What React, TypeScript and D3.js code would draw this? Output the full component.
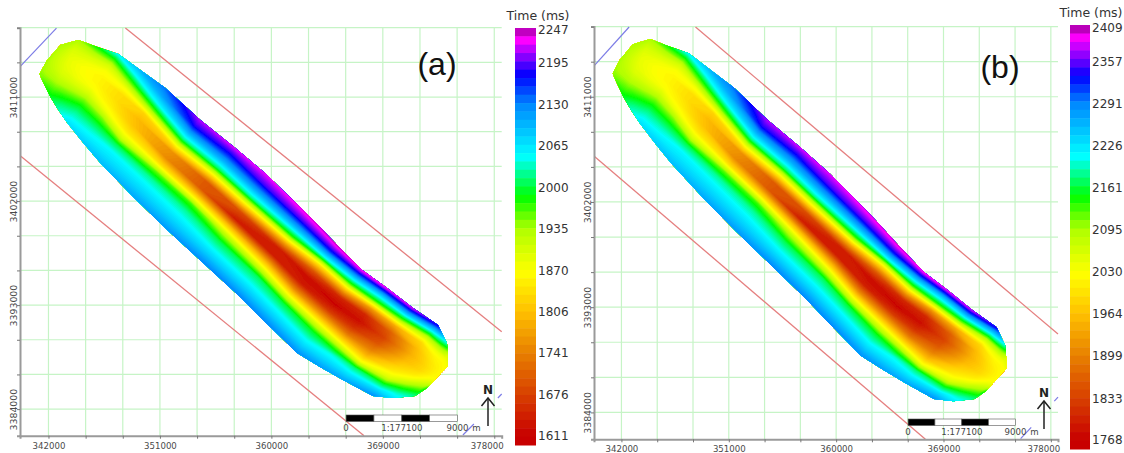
import React, { useEffect, useRef } from 'react'
import * as d3 from 'd3'

const [WIDTH, HEIGHT] = [1124, 453]
const FONT = "'DejaVu Sans', sans-serif"

// map extents, metres
const eastExtent = [339700, 378600]
const northExtent = [3381700, 3417000]
const eastTicks = d3.range(342000, 378001, 3000)
const northTicks = d3.range(3384000, 3417001, 3000)
const labelledEast = [342000, 351000, 360000, 369000, 378000]
const labelledNorth = [3384000, 3393000, 3402000, 3411000]

// fault traces, [easting, northing]
const redFaults = [
  [[348210, 3416968], [378600, 3390698]],
  [[339742, 3405897], [367484, 3381700]],
]
const blueFaults = [
  [[339742, 3413681], [342645, 3416968]],
  [[375468, 3381763], [376355, 3382715]],
  [[378290, 3384963], [378600, 3385310]],
]

// horizon outline, one cross line per station from the SW edge to the NE edge
const swEast = [341274, 341516, 342161, 342806, 343532, 344823, 346194, 348855, 351597, 354500, 357484, 359500, 362081, 363935, 365790, 368210, 369823, 371597, 372564]
const swNorth = [3412990, 3412384, 3411000, 3409876, 3408751, 3407021, 3405291, 3402350, 3399495, 3396641, 3393700, 3391537, 3388856, 3387645, 3386521, 3385137, 3384964, 3385137, 3385828]
const neEast = [341839, 342968, 344419, 345952, 347645, 349419, 351435, 354258, 357081, 359500, 363129, 365306, 367323, 369339, 371435, 373452, 374177, 374258, 374258]
const neNorth = [3414114, 3415498, 3415931, 3415325, 3414720, 3413336, 3411779, 3409010, 3406589, 3404400, 3400620, 3398198, 3396036, 3394479, 3392748, 3391278, 3389721, 3388683, 3387731]

// two-way time along each cross line, SW to NE
const timeA = [
  [1945, 1945, 1945, 1943, 1942, 1941, 1940, 1940, 1940, 1940, 1940, 1940, 1940],
  [1965, 1950, 1940, 1932, 1928, 1925, 1922, 1920, 1920, 1922, 1925, 1930, 1935],
  [1995, 1975, 1955, 1935, 1915, 1900, 1892, 1888, 1888, 1892, 1900, 1915, 1935],
  [2035, 2015, 1990, 1960, 1930, 1900, 1880, 1872, 1870, 1880, 1900, 1935, 1985],
  [2070, 2045, 2020, 1990, 1950, 1905, 1872, 1860, 1860, 1872, 1905, 1975, 2055],
  [2085, 2060, 2035, 2000, 1950, 1880, 1850, 1835, 1835, 1880, 1965, 2045, 2100],
  [2095, 2070, 2050, 2005, 1905, 1845, 1810, 1800, 1825, 1945, 2045, 2105, 2140],
  [2110, 2080, 2055, 2025, 1960, 1835, 1750, 1760, 1885, 2020, 2105, 2180, 2215],
  [2120, 2085, 2055, 2025, 1970, 1830, 1700, 1700, 1850, 2010, 2100, 2170, 2225],
  [2130, 2085, 2045, 2005, 1925, 1800, 1640, 1690, 1860, 2025, 2115, 2190, 2228],
  [2130, 2085, 2045, 2010, 1900, 1780, 1640, 1640, 1790, 1975, 2090, 2185, 2240],
  [2130, 2085, 2045, 2000, 1880, 1750, 1640, 1620, 1700, 1845, 2045, 2170, 2245],
  [2125, 2080, 2040, 1995, 1895, 1780, 1670, 1615, 1650, 1800, 1980, 2110, 2240],
  [2115, 2075, 2040, 1950, 1835, 1730, 1660, 1625, 1650, 1770, 1975, 2090, 2235],
  [2110, 2065, 2015, 1880, 1800, 1740, 1700, 1680, 1705, 1785, 1950, 2090, 2225],
  [2125, 2070, 1995, 1900, 1855, 1825, 1800, 1790, 1800, 1830, 1920, 2060, 2185],
  [2065, 2035, 1990, 1935, 1885, 1850, 1830, 1828, 1838, 1855, 1885, 1950, 2040],
  [2020, 1990, 1960, 1930, 1900, 1875, 1860, 1855, 1855, 1860, 1865, 1880, 1905],
  [1985, 1950, 1920, 1895, 1880, 1870, 1865, 1865, 1865, 1865, 1865, 1870, 1880],
]
const timeB = [
  [2105, 2105, 2105, 2103, 2102, 2101, 2100, 2100, 2100, 2100, 2100, 2100, 2100],
  [2125, 2110, 2100, 2092, 2088, 2085, 2082, 2080, 2080, 2082, 2085, 2090, 2095],
  [2155, 2135, 2115, 2095, 2075, 2058, 2050, 2046, 2046, 2050, 2060, 2075, 2095],
  [2195, 2175, 2150, 2120, 2090, 2060, 2038, 2030, 2028, 2038, 2060, 2095, 2145],
  [2230, 2205, 2180, 2150, 2110, 2065, 2030, 2018, 2018, 2030, 2065, 2135, 2215],
  [2245, 2220, 2195, 2160, 2110, 2038, 2008, 1993, 1993, 2038, 2125, 2205, 2260],
  [2255, 2230, 2210, 2165, 2065, 2003, 1968, 1958, 1983, 2105, 2205, 2265, 2300],
  [2270, 2240, 2215, 2185, 2120, 1993, 1908, 1918, 2043, 2180, 2265, 2340, 2375],
  [2280, 2245, 2215, 2185, 2130, 1988, 1858, 1858, 2008, 2170, 2260, 2330, 2385],
  [2290, 2245, 2205, 2165, 2085, 1958, 1798, 1848, 2018, 2185, 2275, 2350, 2388],
  [2290, 2245, 2205, 2170, 2060, 1938, 1798, 1798, 1948, 2135, 2250, 2345, 2400],
  [2290, 2245, 2205, 2160, 2038, 1908, 1798, 1778, 1858, 2003, 2205, 2330, 2405],
  [2285, 2240, 2200, 2155, 2053, 1938, 1828, 1773, 1808, 1958, 2140, 2270, 2400],
  [2275, 2235, 2200, 2110, 1993, 1888, 1818, 1783, 1808, 1928, 2135, 2250, 2395],
  [2270, 2225, 2175, 2038, 1958, 1898, 1858, 1838, 1863, 1943, 2110, 2250, 2385],
  [2285, 2230, 2155, 2058, 2013, 1983, 1958, 1948, 1958, 1988, 2080, 2220, 2345],
  [2225, 2195, 2150, 2095, 2043, 2008, 1988, 1986, 1996, 2013, 2043, 2110, 2200],
  [2180, 2150, 2120, 2090, 2060, 2033, 2018, 2013, 2013, 2018, 2023, 2040, 2065],
  [2145, 2110, 2080, 2053, 2038, 2028, 2023, 2023, 2023, 2023, 2023, 2028, 2040],
]

// colour bar
const ticksA = [1611, 1676, 1741, 1806, 1870, 1935, 2000, 2065, 2130, 2195, 2247]
const ticksB = [1768, 1833, 1899, 1964, 2030, 2095, 2161, 2226, 2291, 2357, 2409]
const ramp = ['#c80000', '#d84000', '#e88000', '#ffc000', '#ffff00', '#b0ff00', '#00ff00', '#00ffff', '#0088ff', '#0000ff', '#ff00ff', '#b000b0']
const rampStopsA = [1611, 1676, 1741, 1806, 1868, 1935, 1986, 2049, 2130, 2176, 2231, 2247]
const rampStopsB = [1768, 1833, 1899, 1964, 2026, 2095, 2147, 2209, 2291, 2334, 2393, 2409]
const BAND_COUNT = 50

const panelA = {
  label: '(a)', labelX: 437, labelY: 75,
  time: timeA, ticks: ticksA, stops: rampStopsA,
  frame: { left: 20, right: 501.7, top: 27.7, bottom: 435.7 },
  bar: { x: 515, w: 21, top: 28, bottom: 445, tickTop: 30, tickBottom: 436, labelX: 538, titleX: 538, titleY: 20 },
  xLabelPad: 4, scaleY: 415, north: { x: 488, top: 398, bottom: 426 },
  scaleText: 430.5,
}
const panelB = {
  label: '(b)', labelX: 1000, labelY: 78,
  time: timeB, ticks: ticksB, stops: rampStopsB,
  frame: { left: 594, right: 1058, top: 26.6, bottom: 439.3 },
  bar: { x: 1070, w: 20, top: 25, bottom: 449, tickTop: 28, tickBottom: 440, labelX: 1092, titleX: 1091, titleY: 17 },
  xLabelPad: 4, scaleY: 419, north: { x: 1044, top: 401, bottom: 429 },
  scaleText: 435,
}

const scaleBarStart = 366033
const scaleBarSteps = [0, 2250, 4500, 6750, 9000]

function Panel({ panel }) {
  const { frame, bar, time, ticks, stops } = panel
  const xAxisRef = useRef(null)
  const yAxisRef = useRef(null)

  const xScale = d3.scaleLinear().domain(eastExtent).range([frame.left, frame.right])
  const yScale = d3.scaleLinear().domain(northExtent).range([frame.bottom, frame.top])
  const colour = d3.scaleLinear().domain(stops).range(ramp).clamp(true)
  const barScale = d3.scaleLinear()
    .domain([ticks[0], ticks[ticks.length - 1]])
    .range([bar.tickBottom, bar.tickTop])

  // contour the station/column grid, then carry the rings out to map position
  const nCols = time[0].length
  const nRows = time.length
  const flat = time.flat()
  const levels = d3.range(d3.min(flat) - 1, d3.max(flat) + 1, 5)
  const contours = d3.contours().size([nCols, nRows]).smooth(true).thresholds(levels)(flat)
  const lerp = (a, b, t) => a + (b - a) * t
  const atStation = (arr, r) => {
    const r0 = Math.min(Math.floor(r), nRows - 2)
    return lerp(arr[r0], arr[r0 + 1], r - r0)
  }
  const toMap = d3.geoTransform({
    point(cx, cy) {
      const c = Math.max(0, Math.min(nCols - 1, cx - 0.5)) / (nCols - 1)
      const r = Math.max(0, Math.min(nRows - 1, cy - 0.5))
      const e = lerp(atStation(swEast, r), atStation(neEast, r), c)
      const n = lerp(atStation(swNorth, r), atStation(neNorth, r), c)
      this.stream.point(xScale(e), yScale(n))
    },
  })
  const contourPath = d3.geoPath(toMap)

  const faultLine = d3.line().x(d => xScale(d[0])).y(d => yScale(d[1]))

  const bandH = (bar.bottom - bar.top) / BAND_COUNT
  const bands = d3.range(BAND_COUNT).map(i => bar.top + i * bandH)

  useEffect(() => {
    const xAxis = d3.axisBottom(xScale).tickValues(eastTicks).tickSize(3).tickPadding(panel.xLabelPad)
      .tickFormat(d => (labelledEast.includes(d) ? String(d) : ''))
    const yAxis = d3.axisLeft(yScale).tickValues(northTicks).tickSize(3)
      .tickFormat(d => (labelledNorth.includes(d) ? String(d) : ''))
    const gx = d3.select(xAxisRef.current).call(xAxis)
    const gy = d3.select(yAxisRef.current).call(yAxis)
    for (const g of [gx, gy]) {
      g.select('.domain').attr('stroke', '#9a9a9a').attr('stroke-width', 2)
      g.selectAll('.tick line').attr('stroke', '#777')
      g.selectAll('.tick text').attr('fill', '#4a4a4a').style('font-family', FONT)
    }
    gx.selectAll('.tick text').style('font-size', '8.6px')
    gx.selectAll('.tick').filter(d => d === 378000).select('text').attr('dx', -7.5)
    gy.selectAll('.tick text')
      .style('font-size', '9.4px')
      .attr('transform', 'rotate(-90)')
      .attr('text-anchor', 'middle')
      .attr('x', 0)
      .attr('y', -3.5)
      .attr('dy', 0)
  }, [])

  return (
    <g>
      {/* grid */}
      <g stroke="#c6f4c6" strokeWidth={1.2}>
        {eastTicks.map(e => (
          <line key={e} x1={xScale(e)} x2={xScale(e)} y1={frame.top} y2={frame.bottom} />
        ))}
        {northTicks.map(n => (
          <line key={n} x1={frame.left} x2={frame.right} y1={yScale(n)} y2={yScale(n)} />
        ))}
      </g>
      {redFaults.map((f, i) => (
        <path key={i} d={faultLine(f)} fill="none" stroke="#e57f7f" strokeWidth={1.3} />
      ))}
      {blueFaults.map((f, i) => (
        <path key={i} d={faultLine(f)} fill="none" stroke="#7c7ce6" strokeWidth={1.2} />
      ))}

      {/* time map */}
      <g filter="url(#soft)">
        {contours.map(c => (
          <path key={c.value} d={contourPath(c)} fill={colour(c.value + 2.5)} />
        ))}
      </g>

      <g ref={xAxisRef} transform={`translate(0,${frame.bottom})`} />
      <g ref={yAxisRef} transform={`translate(${frame.left},0)`} />

      <text x={panel.labelX} y={panel.labelY} textAnchor="middle" fontSize={32}
        fontFamily="'Liberation Sans', Arial, sans-serif" fill="#111">{panel.label}</text>

      {/* scale bar */}
      <g>
        {d3.pairs(scaleBarSteps).map(([a, b], i) => (
          <rect key={a} x={xScale(scaleBarStart + a)} y={panel.scaleY}
            width={xScale(scaleBarStart + b) - xScale(scaleBarStart + a)} height={6.5}
            fill={i % 2 ? '#fff' : '#000'} stroke="#555" strokeWidth={0.6} />
        ))}
        <g fontFamily={FONT} fontSize={8.6} fill="#444" textAnchor="middle">
          <text x={xScale(scaleBarStart)} y={panel.scaleText}>0</text>
          <text x={xScale(scaleBarStart + 4500)} y={panel.scaleText}>1:177100</text>
          <text x={xScale(scaleBarStart + 9000)} y={panel.scaleText}>9000</text>
          <text x={xScale(scaleBarStart + 9000) + 19} y={panel.scaleText}>m</text>
        </g>
      </g>

      {/* north arrow */}
      <g stroke="#222" strokeWidth={1.5} fill="none">
        <line x1={panel.north.x} x2={panel.north.x} y1={panel.north.top} y2={panel.north.bottom} />
        <path d={`M${panel.north.x - 6.5},${panel.north.top + 8}L${panel.north.x},${panel.north.top}L${panel.north.x + 6.5},${panel.north.top + 8}`} />
      </g>
      <text x={panel.north.x} y={panel.north.top - 4} textAnchor="middle" fontSize={12} fontWeight="bold"
        fontFamily={FONT} fill="#222">N</text>

      {/* colour bar */}
      <text x={bar.titleX} y={bar.titleY} textAnchor="middle" fontSize={12.5} fontFamily={FONT} fill="#333">Time (ms)</text>
      {bands.map(y => (
        <rect key={y} x={bar.x} y={y} width={bar.w} height={bandH + 0.5}
          fill={colour(barScale.invert(y + bandH / 2))} />
      ))}
      {ticks.map(t => (
        <text key={t} x={bar.labelX} y={barScale(t) + 4.3} fontSize={12} fontFamily={FONT} fill="#333">{t}</text>
      ))}
    </g>
  )
}

export default function App() {
  return (
    <svg width={WIDTH} height={HEIGHT} style={{ position: 'absolute', left: 0, top: 0, background: '#fff' }}>
      <defs>
        <filter id="soft" x="-5%" y="-5%" width="110%" height="110%">
          <feGaussianBlur stdDeviation="0.6" />
        </filter>
      </defs>
      <Panel panel={panelA} />
      <Panel panel={panelB} />
    </svg>
  )
}
